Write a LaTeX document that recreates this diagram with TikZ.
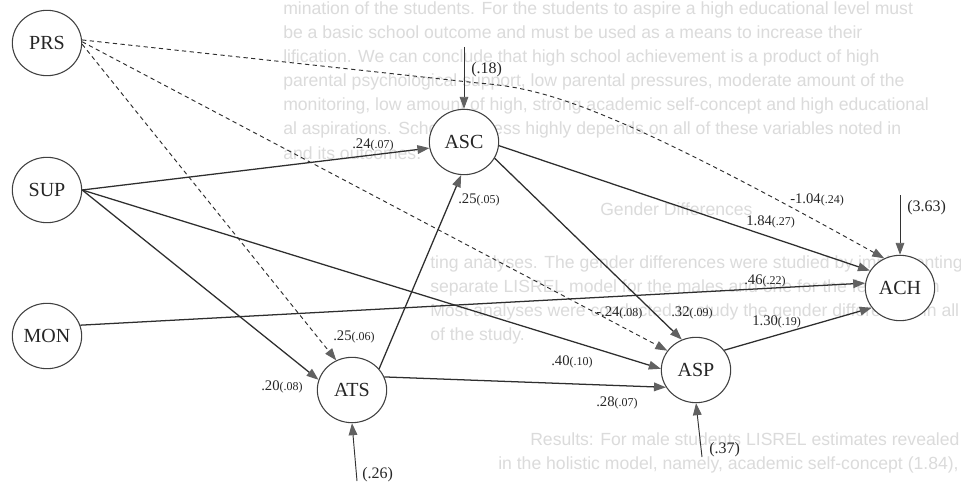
\documentclass[tikz,border=0pt]{standalone}
\usepackage{fontspec}
\setmainfont{Liberation Serif}
\newfontfamily\pagefont{Liberation Sans}
\usetikzlibrary{shapes.geometric,arrows.meta}

% coefficient with its standard error in smaller type
\newcommand{\coef}[2]{{\fontsize{11}{11}\selectfont #1}{\fontsize{9}{9}\selectfont(#2)}}

\begin{document}
\begin{tikzpicture}[x=0.75pt,y=-0.75pt,
  var/.style={ellipse,draw=black!75,line width=0.8pt,fill=white,
    minimum width=52pt,minimum height=49pt,inner sep=0pt,
    font=\fontsize{15}{15}\selectfont,text=black!85},
  tip/.style={-{Triangle[length=9pt,width=6.5pt,color=black!62]}},
  effect/.style={tip,draw=black!82,line width=0.95pt},
  negeffect/.style={tip,draw=black!82,line width=0.7pt,dash pattern=on 3.2pt off 2.6pt},
  resid/.style={tip,draw=black!80,line width=0.7pt},
  est/.style={anchor=west,inner sep=0pt,text=black!85},
  errlab/.style={anchor=west,inner sep=0pt,text=black!85,font=\fontsize{12}{12}\selectfont},
  pagetext/.style={anchor=base west,inner sep=0pt,text=black!14,
    font=\pagefont\fontsize{13.2}{13.2}\selectfont}
]
\useasboundingbox (0,0) rectangle (961,485);
\clip (0,0) rectangle (961,485);
\fill[white] (0,0) rectangle (961,485);

% printed page showing through the figure
\node[pagetext] (p1) at (283,15) {mination of the students. For the students to aspire a high educational level must};
\node[pagetext] (p2) at (283,39) {be a basic school outcome and must be used as a means to increase their};
\node[pagetext] (p3) at (283,63) {lification. We can conclude that high school achievement is a product of high};
\node[pagetext] (p4) at (283,87) {parental psychological support, low parental pressures, moderate amount of the};
\node[pagetext] (p5) at (283,111) {monitoring, low amount of high, strong academic self-concept and high educational};
\node[pagetext] (p6) at (283,135) {al aspirations. School success highly depends on all of these variables noted in};
\node[pagetext] (p7) at (283,159) {and its outcomes.};
\node[pagetext] (p8) at (600,215) {Gender Differences};
\node[pagetext] (p9) at (430,268) {ting analyses. The gender differences were studied by implementing the};
\node[pagetext] (p10) at (430,292) {separate LISREL model for the males and one for the females. In};
\node[pagetext] (p11) at (430,316) {Most analyses were conducted to study the gender differences in all the variables};
\node[pagetext] (p12) at (430,340) {of the study.};
\node[pagetext] (p13) at (530,445) {Results: For male students LISREL estimates revealed the same variables in};
\node[pagetext] (p14) at (498,469) {in the holistic model, namely, academic self-concept (1.84), aspirations (1.30) and};

% variables
\node[var] (PRS) at (47,43) {PRS};
\node[var] (SUP) at (47,190) {SUP};
\node[var] (MON) at (47,336) {MON};
\node[var] (ASC) at (464,142) {ASC};
\node[var] (ATS) at (352,390) {ATS};
\node[var] (ASP) at (696,370) {ASP};
\node[var] (ACH) at (900,288) {ACH};

% residual terms
\coordinate (eASC) at (464,47);
\coordinate (eATS) at (357,481);
\coordinate (eASP) at (702,457);
\coordinate (eACH) at (900,195);
\draw[resid] (eASC) -- (ASC.north);
\draw[resid] (eATS) -- (ATS.south);
\draw[resid] (eASP) -- (ASP.south);
\draw[resid] (eACH) -- (ACH.north);

% paths
\draw[negeffect] (PRS.5) -- (478,83) .. controls (540,88) and (600,100) .. (ACH.118);
\draw[negeffect] (PRS.2) -- (ASP.146);
\draw[negeffect] (PRS.-2) -- (ATS.118);
\draw[effect] (SUP.east) -- (ASC.190);
\draw[effect] (SUP.east) -- (ASP.178);
\draw[effect] (SUP.east) -- (ATS.163);
\draw[effect] (MON.18) -- (ACH.172);
\draw[effect] (ATS.38) -- (ASC.265);
\draw[effect] (ATS.22) -- (ASP.210);
\draw[effect] (ASC.-28) -- (ASP.115);
\draw[effect] (ASC.-6) -- (ACH.150);
\draw[effect] (ASP.35) -- (ACH.215);

% estimates
\node[est] (l1) at (352,145) {\coef{.24}{.07}};
\node[errlab] (l2) at (471,70) {(.18)};
\node[est] (l3) at (458,200) {\coef{.25}{.05}};
\node[est] (l4) at (790,200) {\coef{-1.04}{.24}};
\node[est] (l5) at (746,222) {\coef{1.84}{.27}};
\node[errlab] (l6) at (907,208) {(3.63)};
\node[est] (l7) at (744,281) {\coef{.46}{.22}};
\node[est] (l8) at (596,313) {\coef{-.24}{.08}};
\node[est] (l9) at (671,313) {\coef{.32}{.09}};
\node[est] (l10) at (752,322) {\coef{1.30}{.19}};
\node[est] (l11) at (551,362) {\coef{.40}{.10}};
\node[est] (l12) at (596,403) {\coef{.28}{.07}};
\node[errlab] (l13) at (709,450) {(.37)};
\node[errlab] (l14) at (362,475) {(.26)};
\node[est] (l15) at (261,387) {\coef{.20}{.08}};
\node[est] (l16) at (333,337) {\coef{.25}{.06}};
\end{tikzpicture}
\end{document}
